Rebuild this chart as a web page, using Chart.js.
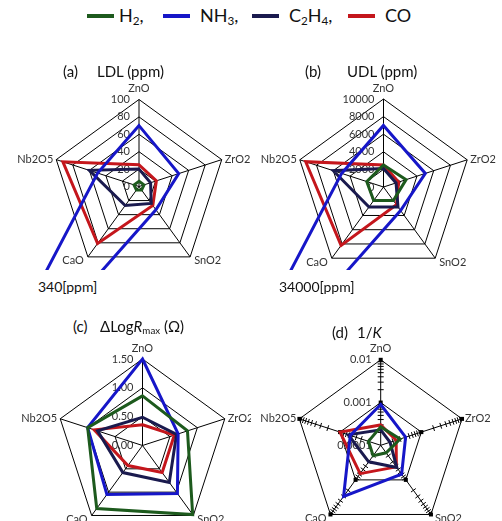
<!DOCTYPE html>
<html>
<head>
<meta charset="utf-8">
<script src="https://cdn.jsdelivr.net/npm/chart.js@4.4.0/dist/chart.umd.min.js"></script>
<style>
  body { margin: 0; background: #fff; }
  #fig { position: relative; width: 502px; height: 521px; font-family: Lato, "Open Sans", sans-serif; color: #111; overflow: hidden; }
  #fig canvas { position: absolute; }
  .t { position: absolute; white-space: nowrap; line-height: 1; }
  .ttl { font-size: 15px; }
  .leg { font-size: 18px; }
  .sw { position: absolute; height: 4px; width: 27px; }
  sub { font-size: 65%; vertical-align: -0.25em; }
</style>
</head>
<body>
<div id="fig">
  <canvas id="ca" width="251" height="230" style="left:0;top:40px"></canvas>
  <canvas id="cb" width="251" height="230" style="left:251px;top:40px"></canvas>
  <canvas id="cc" width="251" height="181" style="left:0;top:340px"></canvas>
  <canvas id="cd" width="251" height="181" style="left:251px;top:340px"></canvas>

  <div class="t ttl" style="left:63px;top:64px">(a)</div>
  <div class="t ttl" style="left:97px;top:64px">LDL (ppm)</div>
  <div class="t ttl" style="left:305px;top:64px">(b)</div>
  <div class="t ttl" style="left:347px;top:64px">UDL (ppm)</div>
  <div class="t ttl" style="left:73px;top:319px">(c)</div>
  <div class="t ttl" style="left:100px;top:319px">&Delta;Log<i>R</i><sub>max</sub> (&Omega;)</div>
  <div class="t ttl" style="left:332px;top:325px">(d)</div>
  <div class="t ttl" style="left:357px;top:325px">1/<i>K</i></div>

  <div class="t" style="left:38px;top:280px;font-size:14px">340[ppm]</div>
  <div class="t" style="left:279px;top:280px;font-size:14px">34000[ppm]</div>
</div>
<script>
// categories and series
const categories = ['ZnO', 'ZrO2', 'SnO2', 'CaO', 'Nb2O5'];
const seriesNames = ['H<sub>2</sub>,', 'NH<sub>3</sub>,', 'C<sub>2</sub>H<sub>4</sub>,', 'CO'];
const seriesColors = ['#1d5a1d', '#1616c8', '#1a1a4e', '#c4161c'];

// (a) LDL (ppm)
const ldlH2   = [6, 6, 5, 5, 6];
const ldlNH3  = [70, 48, 33, 340, 50];
const ldlC2H4 = [20, 14, 24, 27, 60];
const ldlCO   = [25, 21, 27, 81, 92];
const ldlTicks = [0, 20, 40, 60, 80, 100];

// (b) UDL (ppm)
const udlH2   = [2500, 2700, 1900, 1900, 2000];
const udlNH3  = [7000, 5000, 3300, 34000, 5000];
const udlC2H4 = [2100, 1500, 2800, 2800, 6000];
const udlCO   = [2500, 1800, 2500, 8200, 9300];
const udlTicks = [0, 2000, 4000, 6000, 8000, 10000];

// (c) delta log Rmax (ohm)
const dlrH2   = [0.86, 0.82, 1.48, 1.35, 1.00];
const dlrNH3  = [1.50, 0.65, 1.03, 1.05, 1.00];
const dlrC2H4 = [0.49, 0.62, 0.79, 0.58, 0.82];
const dlrCO   = [0.36, 0.58, 0.58, 0.43, 0.88];
const dlrTicks = [0, 0.5, 1.0, 1.5];

// (d) 1/K, log axis
const invKH2   = [0.00027, 0.0003, 0.000165, 0.0002, 0.0002];
const invKNH3  = [0.0009, 0.00041, 0.00068, 0.003, 0.00056];
const invKC2H4 = [0.00023, 0.00017, 0.00044, 0.0003, 0.00063];
const invKCO   = [0.0003, 0.00024, 0.00042, 0.00066, 0.001];
const invKTicks = [0.0001, 0.001, 0.01];

// legend (html so the subscripts work)
const legX = [87, 163, 252, 348];
const fig = document.getElementById('fig');
seriesNames.forEach(function (n, i) {
  var sw = document.createElement('div');
  sw.className = 'sw';
  sw.style.left = legX[i] + 'px';
  sw.style.top = '14px';
  sw.style.background = seriesColors[i];
  fig.appendChild(sw);
  var tx = document.createElement('div');
  tx.className = 't leg';
  tx.style.left = (legX[i] + 32 + (i > 0 ? 5 : 0)) + 'px';
  tx.style.top = '6px';
  tx.innerHTML = n;
  fig.appendChild(tx);
});

// tick labels, point labels and log minor ticks, drawn from the r scale
const radarText = {
  id: 'radarText',
  beforeDatasetsDraw: function (chart, args, o) {
    var s = chart.scales.r, ctx = chart.ctx;
    ctx.save();
    if (o.minor) {
      ctx.strokeStyle = '#000';
      ctx.fillStyle = '#000';
      ctx.lineWidth = 1;
      for (var i = 0; i < categories.length; i++) {
        var a = s.getIndexAngle(i) - Math.PI / 2;
        var px = -Math.sin(a), py = Math.cos(a);
        o.minor.forEach(function (dec) {
          for (var k = 2; k <= 9; k++) {
            var p = s.getPointPositionForValue(i, dec + Math.log10(k));
            ctx.beginPath();
            ctx.moveTo(p.x - 3 * px, p.y - 3 * py);
            ctx.lineTo(p.x + 3 * px, p.y + 3 * py);
            ctx.stroke();
          }
          var q = s.getPointPositionForValue(i, dec + 1);
          ctx.fillRect(q.x - 2, q.y - 2, 4, 4);
        });
      }
    }
    ctx.font = '11px Lato, sans-serif';
    ctx.fillStyle = '#333';
    ctx.textAlign = 'right';
    ctx.textBaseline = 'middle';
    o.tickValues.forEach(function (v, i) {
      var p = s.getPointPositionForValue(0, v);
      ctx.fillText(o.tickText[i], p.x - 9, p.y);
    });
    ctx.restore();
  },
  afterDraw: function (chart) {
    var s = chart.scales.r, ctx = chart.ctx;
    var off = [[0, -11, 'center'], [3, 0, 'left'], [4, 4, 'left'], [-4, 4, 'right'], [-3, 0, 'right']];
    ctx.save();
    ctx.font = '11px Lato, sans-serif';
    ctx.fillStyle = '#333';
    ctx.textBaseline = 'middle';
    categories.forEach(function (c, i) {
      var p = s.getPointPosition(i, s.drawingArea);
      ctx.textAlign = off[i][2];
      ctx.fillText(c, p.x + off[i][0], p.y + off[i][1]);
    });
    ctx.restore();
  }
};

function radar(id, geo, sets, min, max, step, text) {
  return new Chart(document.getElementById(id), {
    type: 'radar',
    data: {
      labels: categories,
      datasets: sets.map(function (d, i) {
        return { label: seriesNames[i], data: d, borderColor: seriesColors[i], borderWidth: 3,
                 pointRadius: 0, fill: false, clip: 0 };
      })
    },
    options: {
      responsive: false,
      animation: false,
      layout: { padding: 0 },
      plugins: { legend: { display: false }, tooltip: { enabled: false }, radarText: text },
      scales: {
        r: {
          min: min, max: max,
          ticks: { display: false, stepSize: step },
          pointLabels: { display: false },
          grid: { color: '#000', lineWidth: 1 },
          angleLines: { color: '#000', lineWidth: 1 },
          afterFit: function (s) { s.xCenter = geo.cx; s.yCenter = geo.cy; s.drawingArea = geo.r; }
        }
      }
    },
    plugins: [radarText]
  });
}

radar('ca', { cx: 139, cy: 146.5, r: 87 }, [ldlH2, ldlNH3, ldlC2H4, ldlCO], 0, 100, 20,
  { tickValues: ldlTicks, tickText: ldlTicks.map(String) });
radar('cb', { cx: 132.5, cy: 147, r: 88 }, [udlH2, udlNH3, udlC2H4, udlCO], 0, 10000, 2000,
  { tickValues: udlTicks, tickText: udlTicks.map(String) });
radar('cc', { cx: 142.5, cy: 105.5, r: 86.5 }, [dlrH2, dlrNH3, dlrC2H4, dlrCO], 0, 1.5, 0.5,
  { tickValues: dlrTicks, tickText: dlrTicks.map(function (v) { return v.toFixed(2); }) });
radar('cd', { cx: 129.7, cy: 105.3, r: 85.5 },
  [invKH2, invKNH3, invKC2H4, invKCO].map(function (a) { return a.map(Math.log10); }), -4, -2, 1,
  { tickValues: invKTicks.map(Math.log10), tickText: invKTicks.map(String), minor: [-4, -3] });
</script>
</body>
</html>
